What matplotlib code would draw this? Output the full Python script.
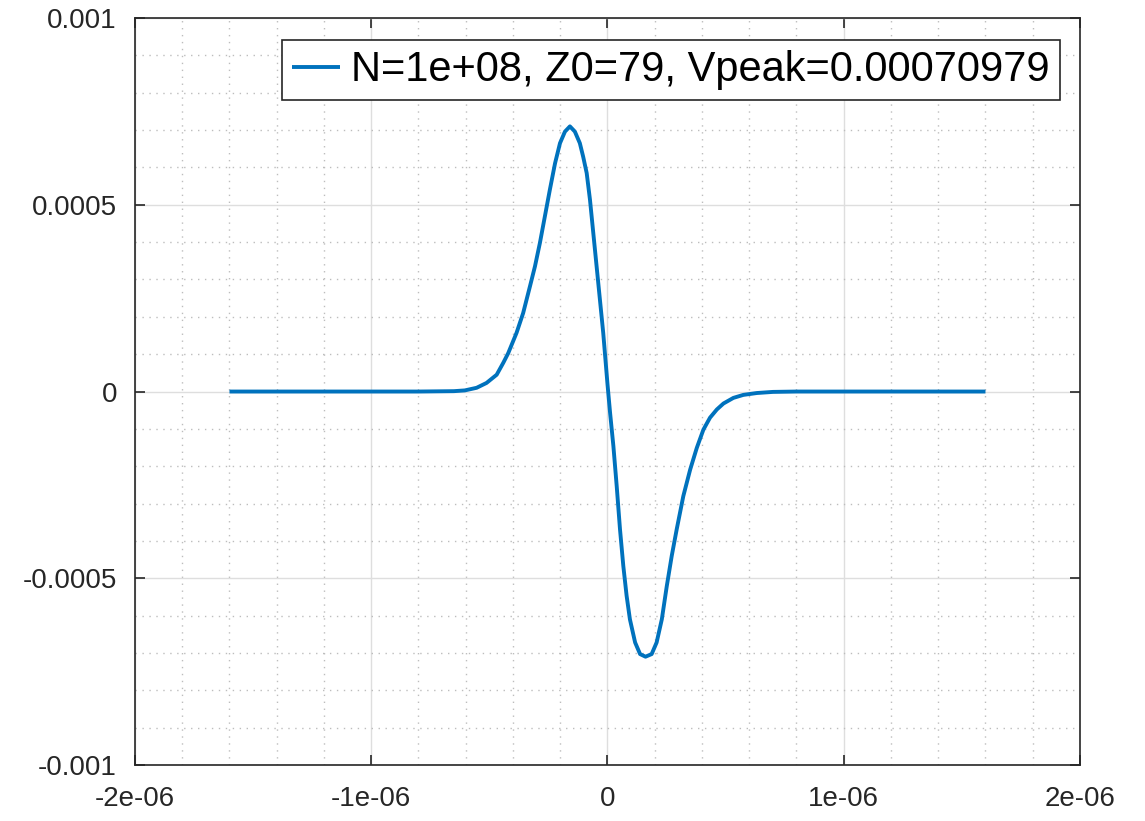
import matplotlib
matplotlib.use("Agg")
import matplotlib.pyplot as plt
import numpy as np
from matplotlib.ticker import MultipleLocator, FixedLocator

# pulse (time in us, voltage in mV)
t_us = [-1.6, -0.8, -0.65, -0.604, -0.554, -0.512, -0.469, -0.441, -0.420, -0.385,
        -0.357, -0.328, -0.307, -0.286, -0.265, -0.244, -0.222, -0.201, -0.180, -0.159,
        -0.138, -0.117, -0.103, -0.088, -0.074, -0.060, -0.046, -0.032, -0.018, 0.0,
        0.011, 0.025, 0.039, 0.053, 0.067, 0.081, 0.095, 0.117, 0.138, 0.161,
        0.187, 0.208, 0.230, 0.251, 0.272, 0.293, 0.321, 0.350, 0.378, 0.406,
        0.434, 0.463, 0.491, 0.533, 0.575, 0.632, 0.70, 0.8, 1.6]
v_mv = [0.0, 0.0, 0.001, 0.003, 0.010, 0.023, 0.045, 0.077, 0.103, 0.157,
        0.210, 0.282, 0.335, 0.398, 0.469, 0.540, 0.611, 0.665, 0.696, 0.710,
        0.696, 0.665, 0.629, 0.585, 0.513, 0.424, 0.335, 0.246, 0.157, 0.02,
        -0.057, -0.146, -0.253, -0.369, -0.467, -0.547, -0.610, -0.672, -0.703, -0.710,
        -0.703, -0.672, -0.610, -0.521, -0.440, -0.369, -0.280, -0.209, -0.151, -0.102,
        -0.070, -0.048, -0.032, -0.017, -0.009, -0.004, -0.001, 0.0, 0.0]
label = "N=1e+08, Z0=79, Vpeak=0.00070979"

xticks = [-2e-6, -1e-6, 0, 1e-6, 2e-6]
xticklabels = ["-2e-06", "-1e-06", "0", "1e-06", "2e-06"]
yticks = [-0.001, -0.0005, 0, 0.0005, 0.001]
yticklabels = ["-0.001", "-0.0005", "0", "0.0005", "0.001"]

plt.rcParams['font.family'] = ['Liberation Sans', 'DejaVu Sans']

t = np.array(t_us) * 1e-6
v = np.array(v_mv) * 1e-3

fig = plt.figure(figsize=(11.45, 8.21), dpi=100)
ax = fig.add_axes([0.1179, 0.0682, 0.8253, 0.9098])

ax.plot(t, v, color="#0072BD", linewidth=2.8, label=label,
        solid_joinstyle="round", solid_capstyle="butt")

ax.set_xlim(-2e-6, 2e-6)
ax.set_ylim(-0.001, 0.001)
ax.xaxis.set_major_locator(FixedLocator(xticks))
ax.set_xticklabels(xticklabels)
ax.yaxis.set_major_locator(FixedLocator(yticks))
ax.set_yticklabels(yticklabels)
ax.xaxis.set_minor_locator(MultipleLocator(0.2e-6))
ax.yaxis.set_minor_locator(MultipleLocator(0.0001))

ax.grid(which="major", color="#dedede", linewidth=1.0, linestyle="-")
ax.grid(which="minor", color="#bdbdbd", linewidth=1.0, linestyle=(0, (1, 4)))
ax.set_axisbelow(True)

ax.tick_params(which="major", direction="in", length=7, width=1.2, color="#262626",
               top=True, right=True, labelsize=20, labelcolor="#262626")
ax.tick_params(axis="y", which="major", pad=13)
ax.tick_params(axis="x", which="major", pad=15)
ax.tick_params(which="minor", length=0)
for s in ax.spines.values():
    s.set_color("#262626")
    s.set_linewidth(1.2)

leg = ax.legend(loc="upper right", bbox_to_anchor=(0.979, 0.97), borderaxespad=0,
                fontsize=30, fancybox=False, framealpha=1, edgecolor="#262626",
                handlelength=1.15, handletextpad=0.27, borderpad=0.24)
leg.get_frame().set_linewidth(1.2)

plt.savefig("out.png", dpi=100)
